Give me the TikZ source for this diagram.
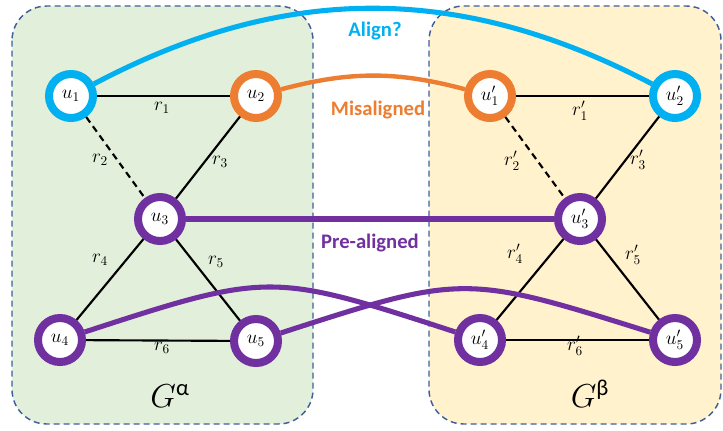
\documentclass[tikz,border=0pt]{standalone}
\usepackage{amsmath}
\usepackage{fontspec}
\newfontfamily\carl{Carlito}
\definecolor{gbox}{HTML}{E2EFDA}
\definecolor{ybox}{HTML}{FFF2CC}
\definecolor{bord}{HTML}{3F5F9A}
\definecolor{cblue}{HTML}{00B0F0}
\definecolor{corange}{HTML}{ED7D31}
\definecolor{cpurple}{HTML}{7030A0}
\tikzset{
  graphbox/.style={draw=bord, line width=1.1pt, dash pattern=on 4.5pt off 3pt, rounded corners=26pt},
  vtx/.style={circle, draw, line width=6pt, fill=white, minimum size=33pt, inner sep=0pt, font=\fontsize{14.5}{14.5}\selectfont},
  elab/.style={inner sep=0pt, font=\fontsize{14}{14}\selectfont},
  edge/.style={line width=1.6pt, black},
  dedge/.style={line width=1.6pt, black, dash pattern=on 5pt off 3.5pt},
  link/.style={line width=3.8pt},
  tag/.style={font=\carl\bfseries\fontsize{15.5}{16}\selectfont, inner sep=0pt},
  glab/.style={font=\fontsize{23}{23}\selectfont, inner sep=0pt}
}
\begin{document}
\begin{tikzpicture}[x=0.75pt,y=-0.75pt]
\useasboundingbox (0,0) rectangle (723,430);
% graph boxes
\draw[graphbox, fill=gbox] (12,6) rectangle (313,424);
\draw[graphbox, fill=ybox] (429,6) rectangle (721,424);
% vertices
\node[vtx, draw=cblue] (u1) at (71,96) {$u_1$};
\node[vtx, draw=corange] (u2) at (256,96) {$u_2$};
\node[vtx, draw=cpurple] (u3) at (160,219) {$u_3$};
\node[vtx, draw=cpurple] (u4) at (60,340) {$u_4$};
\node[vtx, draw=cpurple] (u5) at (256,341) {$u_5$};
\node[vtx, draw=corange] (v1) at (490,96) {$u'_1$};
\node[vtx, draw=cblue] (v2) at (675,96) {$u'_2$};
\node[vtx, draw=cpurple] (v3) at (580,219) {$u'_3$};
\node[vtx, draw=cpurple] (v4) at (480,340) {$u'_4$};
\node[vtx, draw=cpurple] (v5) at (675,340) {$u'_5$};
% edges
\draw[edge] (u1) -- (u2);
\draw[dedge] (u1) -- (u3);
\draw[edge] (u2) -- (u3);
\draw[edge] (u3) -- (u4);
\draw[edge] (u3) -- (u5);
\draw[edge] (u4) -- (u5);
\draw[edge] (v1) -- (v2);
\draw[dedge] (v1) -- (v3);
\draw[edge] (v2) -- (v3);
\draw[edge] (v3) -- (v4);
\draw[edge] (v3) -- (v5);
\draw[edge] (v4) -- (v5);
% edge labels
\node[elab] (r1) at (162,108) {$r_1$};
\node[elab] (r2) at (100,160) {$r_2$};
\node[elab] (r3) at (220,162) {$r_3$};
\node[elab] (r4) at (100,260) {$r_4$};
\node[elab] (r5) at (216,262) {$r_5$};
\node[elab] (r6) at (162,348) {$r_6$};
\node[elab] (s1) at (580,111) {$r'_1$};
\node[elab] (s2) at (512,161) {$r'_2$};
\node[elab] (s3) at (638,160) {$r'_3$};
\node[elab] (s4) at (515,254) {$r'_4$};
\node[elab] (s5) at (633,255) {$r'_5$};
\node[elab] (s6) at (575,346) {$r'_6$};
% alignment links
\draw[link, cblue] (u1) .. controls (285,-17) and (460,-17) .. (v2);
\draw[link, corange, line width=3.3pt] (u2) .. controls (350,71) and (397,71) .. (v1);
\draw[link, cpurple] (u3) -- (v3);
\draw[link, cpurple] (u4) .. controls (269,272) and (271,272) .. (v4);
\draw[link, cpurple] (u5) .. controls (463,274) and (465,274) .. (v5);
% tags
\node[tag, text=cblue] (t1) at (375,31) {Align?};
\node[tag, text=corange] (t2) at (378,110) {Misaligned};
\node[tag, text=cpurple] (t3) at (370,243) {Pre-aligned};
% graph labels
\node[glab] (ga) at (170,396) {$G^{\text{\carl\fontsize{17}{17}\selectfont α}}$};
\node[glab] (gb) at (590,394) {$G^{\text{\carl\fontsize{17}{17}\selectfont β}}$};
\end{tikzpicture}
\end{document}
